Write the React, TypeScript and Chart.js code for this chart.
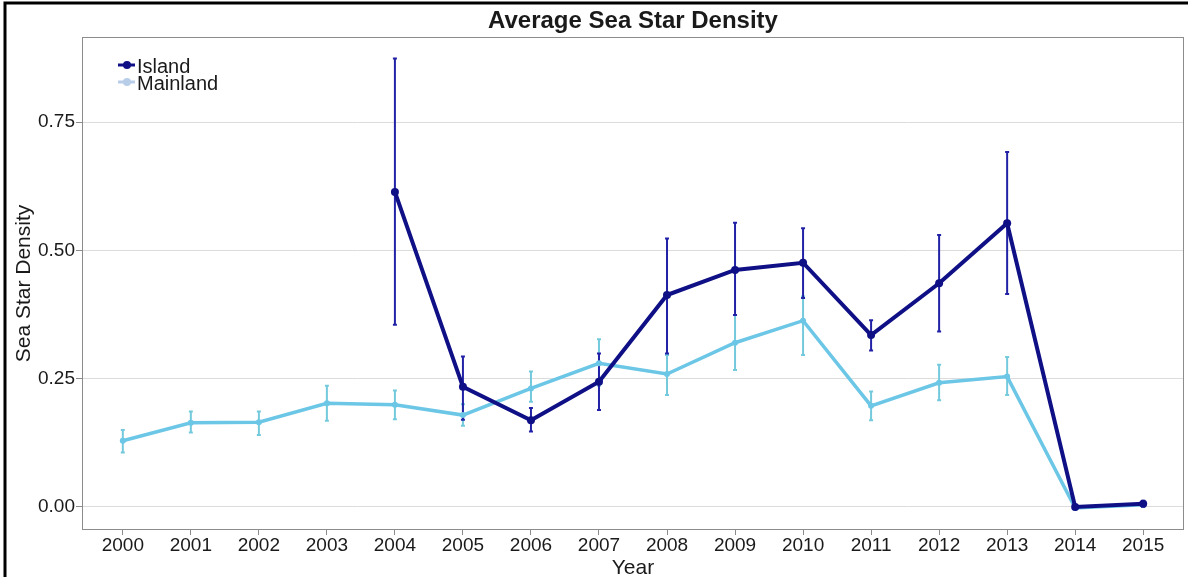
import React, { useEffect, useRef } from 'react';
import { Chart, registerables } from 'chart.js';

Chart.register(...registerables);

const TITLE = 'Average Sea Star Density';
const X_TITLE = 'Year';
const Y_TITLE = 'Sea Star Density';
const SERIES_NAMES = ['Island', 'Mainland'];

const YEARS = [2000, 2001, 2002, 2003, 2004, 2005, 2006, 2007, 2008, 2009, 2010, 2011, 2012, 2013, 2014, 2015];
const Y_TICKS = [0, 0.25, 0.5, 0.75];

const ISLAND_MEAN = [null, null, null, null, 0.614, 0.234, 0.169, 0.244, 0.413, 0.462, 0.476, 0.335, 0.436, 0.553, 0.0, 0.006];
const ISLAND_LOW = [null, null, null, null, 0.355, 0.17, 0.147, 0.189, 0.299, 0.374, 0.407, 0.305, 0.342, 0.415, -0.002, 0.0];
const ISLAND_HIGH = [null, null, null, null, 0.874, 0.293, 0.193, 0.299, 0.523, 0.554, 0.543, 0.364, 0.53, 0.692, 0.002, 0.012];

const MAINLAND_MEAN = [0.129, 0.164, 0.165, 0.202, 0.199, 0.179, 0.231, 0.28, 0.259, 0.32, 0.363, 0.197, 0.242, 0.254, -0.002, 0.004];
const MAINLAND_LOW = [0.106, 0.145, 0.14, 0.168, 0.171, 0.158, 0.205, 0.236, 0.218, 0.267, 0.296, 0.169, 0.208, 0.218, -0.004, 0.002];
const MAINLAND_HIGH = [0.15, 0.186, 0.186, 0.236, 0.227, 0.2, 0.264, 0.327, 0.296, 0.374, 0.41, 0.225, 0.277, 0.292, 0.0, 0.006];

const ISLAND_COLOR = '#0f0f86';
const ISLAND_ERR_COLOR = '#2222a6';
const MAINLAND_COLOR = '#6cc6e6';
const MAINLAND_ERR_COLOR = '#74cadc';
const FONT = "'Liberation Sans', Arial, sans-serif";
const TEXT_COLOR = '#1a1a1a';

const ERRORS = [
  { low: ISLAND_LOW, high: ISLAND_HIGH, color: ISLAND_ERR_COLOR },
  { low: MAINLAND_LOW, high: MAINLAND_HIGH, color: MAINLAND_ERR_COLOR },
];

const toPoints = (vals: (number | null)[]) => YEARS.map((x, i) => ({ x, y: vals[i] }));

export default function App() {
  const ref = useRef<HTMLCanvasElement | null>(null);

  useEffect(() => {
    if (!ref.current) return;

    const framePlugin = {
      id: 'frame',
      beforeDraw(chart: any) {
        const { ctx, width, height } = chart;
        ctx.save();
        ctx.fillStyle = '#ffffff';
        ctx.fillRect(0, 0, width, height);
        ctx.restore();
      },
      afterDraw(chart: any) {
        const { ctx, chartArea: a } = chart;
        ctx.save();
        ctx.strokeStyle = '#8c8c8c';
        ctx.lineWidth = 1;
        ctx.strokeRect(a.left + 0.5, a.top + 0.5, a.right - a.left - 1, a.bottom - a.top - 1);
        // outer black frame
        ctx.strokeStyle = '#000000';
        ctx.lineWidth = 3;
        ctx.beginPath();
        ctx.moveTo(5, 700);
        ctx.lineTo(5, 3);
        ctx.lineTo(1300, 3);
        ctx.stroke();
        // title
        ctx.fillStyle = TEXT_COLOR;
        ctx.font = `bold 24px ${FONT}`;
        ctx.textAlign = 'center';
        ctx.textBaseline = 'middle';
        ctx.fillText(TITLE, (a.left + a.right) / 2, 21);
        // legend
        const items = [
          { name: SERIES_NAMES[0], color: ISLAND_COLOR, y: 65 },
          { name: SERIES_NAMES[1], color: '#b8cde8', y: 82 },
        ];
        items.forEach((it) => {
          ctx.strokeStyle = it.color;
          ctx.lineWidth = 3;
          ctx.beginPath();
          ctx.moveTo(118, it.y);
          ctx.lineTo(135, it.y);
          ctx.stroke();
          ctx.fillStyle = it.color;
          ctx.beginPath();
          ctx.arc(127, it.y, 4, 0, Math.PI * 2);
          ctx.fill();
          ctx.fillStyle = TEXT_COLOR;
          ctx.font = `20px ${FONT}`;
          ctx.textAlign = 'left';
          ctx.textBaseline = 'alphabetic';
          ctx.fillText(it.name, 137, it.y + 8);
        });
        ctx.restore();
      },
    };

    const errorBarPlugin = {
      id: 'errorBars',
      beforeDatasetsDraw(chart: any) {
        const { ctx } = chart;
        const xs = chart.scales.x;
        const ys = chart.scales.y;
        ctx.save();
        ERRORS.slice().reverse().forEach((e) => {
          ctx.strokeStyle = e.color;
          ctx.lineWidth = 2;
          YEARS.forEach((yr, i) => {
            const lo = e.low[i];
            const hi = e.high[i];
            if (lo == null || hi == null) return;
            const x = xs.getPixelForValue(yr);
            const y1 = ys.getPixelForValue(lo);
            const y2 = ys.getPixelForValue(hi);
            ctx.beginPath();
            ctx.moveTo(x, y1);
            ctx.lineTo(x, y2);
            ctx.moveTo(x - 2, y1);
            ctx.lineTo(x + 2, y1);
            ctx.moveTo(x - 2, y2);
            ctx.lineTo(x + 2, y2);
            ctx.stroke();
          });
        });
        ctx.restore();
      },
    };

    const chart = new Chart(ref.current, {
      type: 'line',
      data: {
        datasets: [
          {
            label: SERIES_NAMES[0],
            data: toPoints(ISLAND_MEAN),
            borderColor: ISLAND_COLOR,
            backgroundColor: ISLAND_COLOR,
            borderWidth: 4,
            pointRadius: 4,
            pointBorderWidth: 0,
            tension: 0,
          },
          {
            label: SERIES_NAMES[1],
            data: toPoints(MAINLAND_MEAN),
            borderColor: MAINLAND_COLOR,
            backgroundColor: MAINLAND_COLOR,
            borderWidth: 3.5,
            pointRadius: 3,
            pointBorderWidth: 0,
            tension: 0,
          },
        ],
      },
      options: {
        animation: false,
        responsive: false,
        layout: { padding: { top: 37, right: 3, bottom: 0, left: 0 } },
        plugins: {
          legend: { display: false },
          title: { display: false },
          tooltip: { enabled: false },
        },
        scales: {
          x: {
            type: 'linear',
            min: 1999.4,
            max: 2015.6,
            afterBuildTicks: (s: any) => {
              s.ticks = YEARS.map((v) => ({ value: v }));
            },
            afterFit: (s: any) => {
              s.height = 47;
            },
            ticks: {
              callback: (v: any) => String(v),
              font: { family: FONT, size: 19 },
              color: TEXT_COLOR,
              padding: -1,
              maxRotation: 0,
              autoSkip: false,
            },
            grid: { drawOnChartArea: false, drawTicks: true, tickLength: 5, tickColor: '#8c8c8c' },
            border: { display: false },
            title: {
              display: true,
              text: X_TITLE,
              font: { family: FONT, size: 21, lineHeight: 0.8 },
              color: TEXT_COLOR,
              padding: 0,
            },
          },
          y: {
            type: 'linear',
            min: -0.045,
            max: 0.916,
            afterBuildTicks: (s: any) => {
              s.ticks = Y_TICKS.map((v) => ({ value: v }));
            },
            afterFit: (s: any) => {
              s.width = 82;
            },
            ticks: {
              callback: (v: any) => Number(v).toFixed(2),
              font: { family: FONT, size: 19 },
              color: TEXT_COLOR,
              padding: 1,
            },
            grid: { color: '#dcdcdc', lineWidth: 1, drawTicks: true, tickLength: 6, tickColor: '#8c8c8c' },
            border: { display: false },
            title: {
              display: true,
              text: Y_TITLE,
              font: { family: FONT, size: 21, lineHeight: 1 },
              color: TEXT_COLOR,
              padding: { top: 14, bottom: 0 },
            },
          },
        },
      },
      plugins: [framePlugin, errorBarPlugin],
    } as any);

    return () => chart.destroy();
  }, []);

  return (
    <div style={{ position: 'fixed', left: 0, top: 0, width: 1188, height: 577, background: '#fff' }}>
      <canvas ref={ref} width={1188} height={577} style={{ display: 'block', width: 1188, height: 577 }} />
    </div>
  );
}
